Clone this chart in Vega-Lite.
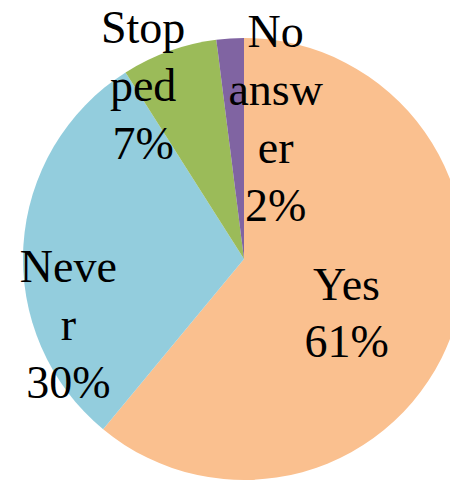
{
  "$schema": "https://vega.github.io/schema/vega-lite/v6.json",
  "width": 488,
  "height": 518,
  "autosize": {"type": "none"},
  "padding": 0,
  "background": "white",
  "view": {"stroke": null},
  "data": {
    "values": [
      {"idx": 1, "answer": "Yes", "pct": 61, "label": "Yes\n61%"},
      {"idx": 2, "answer": "Never", "pct": 30, "label": "Neve\nr\n30%"},
      {"idx": 3, "answer": "Stopped", "pct": 7, "label": "Stop\nped\n7%"},
      {"idx": 4, "answer": "No answer", "pct": 2, "label": "No\nansw\ner\n2%"}
    ]
  },
  "encoding": {
    "theta": {"field": "pct", "type": "quantitative", "stack": true},
    "order": {"field": "idx", "type": "quantitative"}
  },
  "layer": [
    {
      "mark": {"type": "arc", "outerRadius": 221},
      "encoding": {
        "color": {
          "field": "answer",
          "type": "nominal",
          "scale": {
            "domain": ["Yes", "Never", "Stopped", "No answer"],
            "range": ["#FAC08F", "#93CDDD", "#9BBB59", "#8064A2"]
          },
          "legend": null
        }
      }
    },
    {
      "mark": {"type": "text", "radius": 109, "dy": 4, "font": "Liberation Serif", "fontSize": 46, "lineBreak": "\n", "lineHeight": 57, "baseline": "alphabetic", "align": "center", "color": "black"},
      "encoding": {"text": {"condition": {"test": "datum.answer === 'Yes'", "field": "label"}, "value": ""}}
    },
    {
      "mark": {"type": "text", "radius": 176, "dy": 34, "font": "Liberation Serif", "fontSize": 46, "lineBreak": "\n", "lineHeight": 58, "baseline": "alphabetic", "align": "center", "color": "black"},
      "encoding": {"text": {"condition": {"test": "datum.answer === 'Never'", "field": "label"}, "value": ""}}
    },
    {
      "mark": {"type": "text", "radius": 230, "dx": -23, "font": "Liberation Serif", "fontSize": 46, "lineBreak": "\n", "lineHeight": 58, "baseline": "alphabetic", "align": "center", "color": "black"},
      "encoding": {"text": {"condition": {"test": "datum.answer === 'Stopped'", "field": "label"}, "value": ""}}
    },
    {
      "mark": {"type": "text", "radius": 212, "dx": 45, "font": "Liberation Serif", "fontSize": 46, "lineBreak": "\n", "lineHeight": 58, "baseline": "alphabetic", "align": "center", "color": "black"},
      "encoding": {"text": {"condition": {"test": "datum.answer === 'No answer'", "field": "label"}, "value": ""}}
    }
  ]
}
